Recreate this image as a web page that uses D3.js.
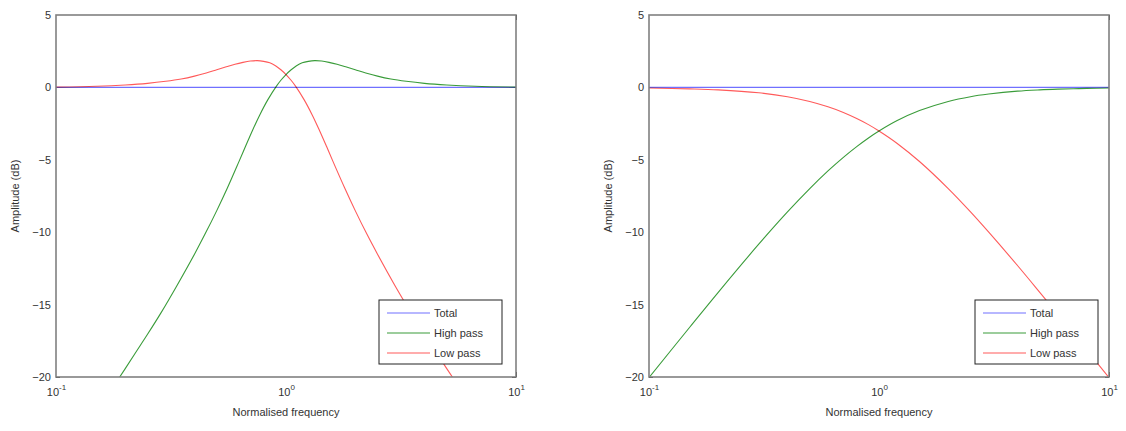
<!DOCTYPE html>
<html>
<head>
<meta charset="utf-8">
<script src="https://cdn.jsdelivr.net/npm/d3@7"></script>
<style>
  body { margin: 0; background: #fff; }
  svg { font-family: "Liberation Sans", Arial, sans-serif; }
  .frame { fill: none; stroke: #808080; stroke-width: 1.6; }
  .tick line { stroke: #222; }
  .domain { display: none; }
  .tick text { fill: #333; font-size: 11px; }
  .lbl { fill: #333; font-size: 11px; }
  .curve { fill: none; stroke-width: 1.1; mix-blend-mode: multiply; }
</style>
</head>
<body>
<svg id="chart" width="1126" height="431"></svg>
<script>
// values: [normalised frequency, dB]
const leftTotal = [[0.1, 0], [10, 0]];
const leftHighPass = [[0.1, -26.27], [0.125, -24.14], [0.143, -22.83], [0.167, -21.29], [0.182, -20.41],
  [0.2, -19.42], [0.222, -18.31], [0.25, -17.05], [0.286, -15.57], [0.333, -13.78], [0.4, -11.52],
  [0.444, -10.15], [0.5, -8.51], [0.556, -6.95], [0.625, -5.11], [0.667, -4.07], [0.714, -2.99],
  [0.769, -1.9], [0.833, -0.86], [0.909, 0.09], [0.952, 0.51], [1.0, 0.89], [1.053, 1.22],
  [1.111, 1.5], [1.176, 1.7], [1.25, 1.8], [1.333, 1.85], [1.429, 1.82], [1.538, 1.73],
  [1.667, 1.6], [1.818, 1.42], [2.0, 1.22], [2.222, 1.0], [2.5, 0.78], [2.857, 0.58],
  [3.333, 0.42], [4.0, 0.28], [5.0, 0.17], [6.667, 0.08], [10, 0.02]];
const leftLowPass = [[0.1, 0.02], [0.15, 0.08], [0.2, 0.17], [0.25, 0.28], [0.3, 0.42],
  [0.35, 0.58], [0.4, 0.78], [0.45, 1.0], [0.5, 1.22], [0.55, 1.42], [0.6, 1.6], [0.65, 1.73],
  [0.7, 1.82], [0.75, 1.85], [0.8, 1.8], [0.85, 1.7], [0.9, 1.5], [0.95, 1.22], [1.0, 0.89],
  [1.05, 0.51], [1.1, 0.09], [1.2, -0.86], [1.3, -1.9], [1.4, -2.99], [1.5, -4.07], [1.6, -5.11],
  [1.8, -6.95], [2.0, -8.51], [2.25, -10.15], [2.5, -11.52], [3.0, -13.78], [3.5, -15.57],
  [4.0, -17.05], [4.5, -18.31], [5.0, -19.42], [5.5, -20.41], [6, -21.29], [7, -22.83],
  [8, -24.14], [10, -26.27]];

const rightTotal = [[0.1, 0], [10, 0]];
const rightHighPass = [[0.1, -20.04], [0.15, -16.58], [0.2, -14.15], [0.3, -10.83], [0.4, -8.6],
  [0.5, -6.99], [0.6, -5.77], [0.7, -4.83], [0.8, -4.09], [0.9, -3.49], [1, -3.01], [1.2, -2.29],
  [1.5, -1.6], [2, -0.97], [2.5, -0.64], [3, -0.46], [4, -0.26], [5, -0.17], [6, -0.12],
  [7, -0.09], [8, -0.07], [10, -0.04]];
const rightLowPass = [[0.1, -0.04], [0.15, -0.1], [0.2, -0.17], [0.3, -0.37], [0.4, -0.64],
  [0.5, -0.97], [0.6, -1.34], [0.7, -1.73], [0.8, -2.15], [0.9, -2.57], [1, -3.01], [1.2, -3.87],
  [1.5, -5.12], [2, -6.99], [2.5, -8.6], [3, -10.0], [4, -12.3], [5, -14.15], [6, -15.68],
  [7, -16.99], [8, -18.13], [10, -20.04]];

const yTicks = [5, 0, -5, -10, -15, -20];
const xMajor = [0.1, 1, 10];
const xMajorExp = ["-1", "0", "1"];
const xMinor = [0.2, 0.3, 0.4, 0.5, 0.6, 0.7, 0.8, 0.9, 2, 3, 4, 5, 6, 7, 8, 9];
const seriesNames = ["Total", "High pass", "Low pass"];
const seriesColors = ["#7070ff", "#3a9c3a", "#ff5a5a"];

const svg = d3.select("#chart");

function drawPanel(id, left, series, legendX) {
  const top = 15, bottom = 377, width = 460;
  const x = d3.scaleLog().domain([0.1, 10]).range([left, left + width]);
  const y = d3.scaleLinear().domain([-20, 5]).range([bottom, top]);
  const g = svg.append("g");

  g.append("clipPath").attr("id", "clip" + id)
    .append("rect").attr("x", left).attr("y", top).attr("width", width).attr("height", bottom - top);

  // x axes, bottom and top, ticks pointing inward
  const xb = g.append("g").attr("transform", `translate(0,${bottom})`)
    .call(d3.axisBottom(x).tickValues(xMajor).tickSizeInner(-5).tickSizeOuter(0).tickPadding(11));
  xb.selectAll(".tick text").each(function (d, i) {
    const t = d3.select(this).text("10");
    t.append("tspan").attr("dy", -6).attr("font-size", 8).text(xMajorExp[i]);
  });
  g.append("g").attr("transform", `translate(0,${bottom})`)
    .call(d3.axisBottom(x).tickValues(xMinor).tickSizeInner(-3).tickSizeOuter(0).tickFormat(""));
  g.append("g").attr("transform", `translate(0,${top})`)
    .call(d3.axisTop(x).tickValues(xMajor).tickSizeInner(-5).tickSizeOuter(0).tickFormat(""));
  g.append("g").attr("transform", `translate(0,${top})`)
    .call(d3.axisTop(x).tickValues(xMinor).tickSizeInner(-3).tickSizeOuter(0).tickFormat(""));

  // y axes, left and right
  g.append("g").attr("transform", `translate(${left},0)`)
    .call(d3.axisLeft(y).tickValues(yTicks).tickSizeInner(-4).tickSizeOuter(0).tickPadding(5)
      .tickFormat(d3.format("d")));
  g.append("g").attr("transform", `translate(${left + width},0)`)
    .call(d3.axisRight(y).tickValues(yTicks).tickSizeInner(-4).tickSizeOuter(0).tickFormat(""));

  const line = d3.line().x(d => x(d[0])).y(d => y(d[1])).curve(d3.curveCatmullRom.alpha(0.5));
  const lines = g.append("g").attr("clip-path", `url(#clip${id})`).style("isolation", "isolate");
  lines.append("rect").attr("x", left).attr("y", top).attr("width", width)
    .attr("height", bottom - top).attr("fill", "#fff");
  series.forEach((s, i) => {
    lines.append("path").attr("class", "curve").attr("d", line(s))
      .attr("stroke", seriesColors[i]);
  });

  g.append("rect").attr("class", "frame")
    .attr("x", left).attr("y", top).attr("width", width).attr("height", bottom - top);

  g.append("text").attr("class", "lbl").attr("text-anchor", "middle")
    .attr("x", left + width / 2).attr("y", 416).text("Normalised frequency");
  g.append("text").attr("class", "lbl").attr("text-anchor", "middle")
    .attr("transform", `translate(${left - 37},${(top + bottom) / 2}) rotate(-90)`)
    .text("Amplitude (dB)");

  // legend
  const lg = g.append("g").attr("transform", `translate(${legendX},300)`);
  lg.append("rect").attr("width", 123).attr("height", 64)
    .attr("fill", "#fff").attr("stroke", "#222").attr("stroke-width", 1);
  seriesNames.forEach((name, i) => {
    const yy = 13 + i * 20;
    lg.append("line").attr("x1", 8).attr("x2", 51).attr("y1", yy).attr("y2", yy)
      .attr("stroke", seriesColors[i]).attr("stroke-width", 1.2);
    lg.append("text").attr("class", "lbl").attr("x", 55).attr("y", yy + 4).text(name);
  });
}

drawPanel("L", 56, [leftTotal, leftHighPass, leftLowPass], 379);
drawPanel("R", 649, [rightTotal, rightHighPass, rightLowPass], 975);
</script>
</body>
</html>
